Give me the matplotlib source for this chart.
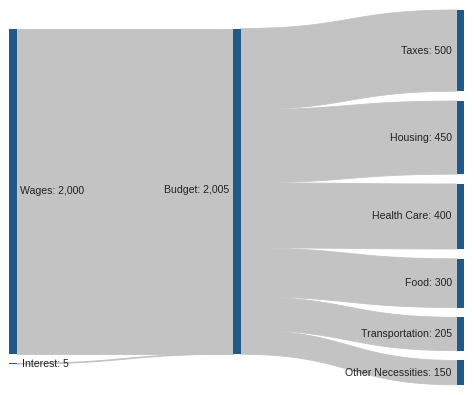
import numpy as np
import matplotlib
matplotlib.use("Agg")
import matplotlib.pyplot as plt
from matplotlib.patches import Rectangle

# ---- data ----
sources = ["Wages", "Interest"]
source_values = [2000, 5]
hub = "Budget"
targets = ["Taxes", "Housing", "Health Care", "Food", "Transportation", "Other Necessities"]
target_values = [500, 450, 400, 300, 205, 150]

# ---- style / layout ----
W, H = 474, 395
NODE_COLOR = "#1f5a8a"
LINK_COLOR = "#c3c3c3"
TEXT_COLOR = "#222222"
k = 0.1625         # px per unit
gap = 9.8          # px between nodes
node_w = 7.5
col_x = [9.5, 233.3, 456.7]
col_top = [28.5, 28.5, 10]

fig = plt.figure(figsize=(W / 100, H / 100), dpi=100)
ax = fig.add_axes([0, 0, 1, 1])
ax.set_xlim(0, W)
ax.set_ylim(H, 0)
ax.axis("off")
plt.rcParams["font.family"] = ["Liberation Sans", "DejaVu Sans"]
FS = 7.6


def stack(values, top):
    out = []
    y = top
    for v in values:
        h = v * k
        out.append((y, y + h))
        y += h + gap
    return out


def link(x0, y0a, y0b, x1, y1a, y1b):
    t = np.linspace(0, 1, 80)
    xm = (x0 + x1) / 2
    bx = (1 - t) ** 3 * x0 + 3 * (1 - t) ** 2 * t * xm + 3 * (1 - t) * t ** 2 * xm + t ** 3 * x1
    s = 3 * t ** 2 - 2 * t ** 3
    ya = y0a + (y1a - y0a) * s
    yb = y0b + (y1b - y0b) * s
    xs = np.concatenate([bx, bx[::-1]])
    ys = np.concatenate([ya, yb[::-1]])
    ax.fill(xs, ys, color=LINK_COLOR, lw=0.6, ec=LINK_COLOR, zorder=1)


left = stack(source_values, col_top[0])
hub_total = sum(source_values)
mid = (col_top[1], col_top[1] + hub_total * k)
right = stack(target_values, col_top[2])

# links left -> hub
y = mid[0]
for (a, b), v in zip(left, source_values):
    h = v * k
    link(col_x[0] + node_w, a, b, col_x[1], y, y + h)
    y += h
# links hub -> right
y = mid[0]
for (a, b), v in zip(right, target_values):
    h = v * k
    link(col_x[1] + node_w, y, y + h, col_x[2], a, b)
    y += h

# nodes
for (a, b) in left:
    ax.add_patch(Rectangle((col_x[0], a), node_w, max(b - a, 1), color=NODE_COLOR, zorder=2, lw=0))
ax.add_patch(Rectangle((col_x[1], mid[0]), node_w, mid[1] - mid[0], color=NODE_COLOR, zorder=2, lw=0))
for (a, b) in right:
    ax.add_patch(Rectangle((col_x[2], a), node_w, b - a, color=NODE_COLOR, zorder=2, lw=0))

# labels
for name, v, (a, b) in zip(sources, source_values, left):
    ax.text(col_x[0] + node_w + 3 + (2 if v < 50 else 0), (a + b) / 2 + 0.5, f"{name}: {v:,}",
            ha="left", va="center", fontsize=FS, color=TEXT_COLOR, zorder=3)
ax.text(col_x[1] - 4, (mid[0] + mid[1]) / 2 - 1, f"{hub}: {hub_total:,}",
        ha="right", va="center", fontsize=FS, color=TEXT_COLOR, zorder=3)
for name, v, (a, b) in zip(targets, target_values, right):
    ax.text(col_x[2] - 5, (a + b) / 2, f"{name}: {v:,}",
            ha="right", va="center", fontsize=FS, color=TEXT_COLOR, zorder=3)

fig.savefig("out.png", dpi=100)
